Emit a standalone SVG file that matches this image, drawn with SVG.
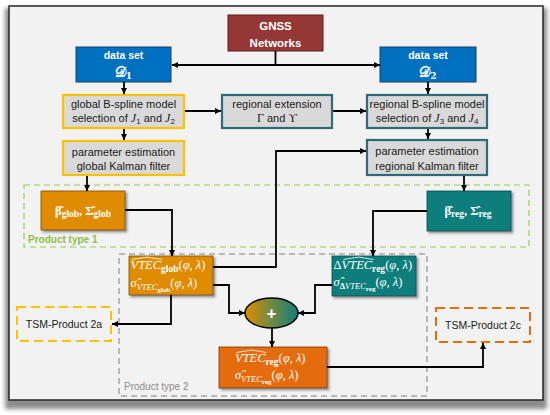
<svg xmlns="http://www.w3.org/2000/svg" width="550" height="415" viewBox="0 0 550 415">
<defs>
<style>
.lbl{font-family:"Liberation Sans",Arial,sans-serif;font-size:11px;fill:#1a1a1a;text-anchor:middle}
.wb{font-family:"Liberation Sans",Arial,sans-serif;font-weight:bold;fill:#fff;text-anchor:middle}
.m{font-family:"Liberation Serif","DejaVu Serif",serif;font-size:12.5px;fill:#fff}
.it{font-style:italic}
.sb{font-weight:bold;font-size:9.5px}
.ss{font-weight:bold;font-size:7px}
.si{font-style:italic;font-size:8.5px}
.con{fill:none;stroke:#000;stroke-width:1.8}
.hat{fill:none;stroke:#fff;stroke-width:0.8}
.gbox{fill:#d9d9d9;stroke-width:2.2}
.sh{filter:url(#shadow)}
</style>
<marker id="ah" viewBox="0 0 6 6" refX="6" refY="3" markerWidth="6" markerHeight="6" markerUnits="userSpaceOnUse" orient="auto">
<path d="M0,0 L6,3 L0,6 z" fill="#000"/>
</marker>
<filter id="blur" x="-5%" y="-5%" width="110%" height="110%"><feGaussianBlur stdDeviation="2"/></filter>
<filter id="shadow" x="-10%" y="-10%" width="130%" height="130%"><feDropShadow dx="2" dy="2" stdDeviation="1" flood-color="#555" flood-opacity="0.6"/></filter>
<linearGradient id="grad" x1="0" y1="0" x2="1" y2="0">
<stop offset="0" stop-color="#e08c00"/>
<stop offset="0.45" stop-color="#7a8a3a"/>
<stop offset="1" stop-color="#117e7c"/>
</linearGradient>
</defs>

<rect x="0" y="0" width="550" height="415" fill="#ffffff"/>
<rect x="5" y="8" width="542" height="401" fill="#8c8c8c" filter="url(#blur)"/>
<rect x="9" y="6" width="534" height="394" fill="#f2f2f2" stroke="#262626" stroke-width="1.5"/>

<g id="product-type-1">
<rect x="24" y="185" width="505" height="62" fill="none" stroke="#92d050" stroke-width="1.2" stroke-dasharray="6,4"/>
<text x="28" y="243" font-family="Liberation Sans,Arial,sans-serif" font-size="10" font-weight="bold" fill="#8cc04a">Product type 1</text>
</g>
<g id="product-type-2">
<rect x="119" y="254" width="308" height="142" fill="none" stroke="#a6a6a6" stroke-width="1.5" stroke-dasharray="6,4"/>
<text x="124" y="390" font-family="Liberation Sans,Arial,sans-serif" font-size="10" fill="#8c8c8c">Product type 2</text>
</g>

<g id="gnss">
<rect x="228" y="15" width="95" height="36" fill="#953735" stroke="#5a1f1e" stroke-width="1"/>
<text class="wb" x="275.5" y="30" font-size="11.5">GNSS</text>
<text class="wb" x="275.5" y="46.5" font-size="11.5">Networks</text>
</g>

<g id="d1">
<rect x="76" y="47" width="95" height="35" fill="#0070c0" stroke="#1f3f60" stroke-width="1"/>
<text class="wb" x="123.5" y="59" font-size="10.5">data set</text>
<text x="123.5" y="77" font-family="DejaVu Serif,serif" font-size="14" font-weight="bold" fill="#fff" text-anchor="middle">𝒟<tspan font-size="9" dy="2">1</tspan></text>
</g>
<g id="d2">
<rect x="380" y="47" width="96" height="35" fill="#0070c0" stroke="#1f3f60" stroke-width="1"/>
<text class="wb" x="428" y="59" font-size="10.5">data set</text>
<text x="428" y="77" font-family="DejaVu Serif,serif" font-size="14" font-weight="bold" fill="#fff" text-anchor="middle">𝒟<tspan font-size="9" dy="2">2</tspan></text>
</g>

<g id="global-bspline">
<rect class="gbox" x="63" y="95" width="121" height="33" stroke="#ffc000"/>
<text class="lbl" x="123.5" y="107.5">global B-spline model</text>
<text class="lbl" x="123.5" y="122">selection of <tspan font-family="Liberation Serif,serif" font-style="italic" font-size="12">J</tspan><tspan font-size="8" dy="2">1</tspan><tspan dy="-2"> and </tspan><tspan font-family="Liberation Serif,serif" font-style="italic" font-size="12">J</tspan><tspan font-size="8" dy="2">2</tspan></text>
</g>
<g id="regional-extension">
<rect class="gbox" x="222" y="95" width="110" height="33" stroke="#2e6b7a"/>
<text class="lbl" x="277" y="107.5">regional extension</text>
<text class="lbl" x="277" y="122"><tspan font-family="Liberation Serif,serif" font-size="12">Γ</tspan> and <tspan font-family="Liberation Serif,serif" font-size="12">ϒ</tspan></text>
</g>
<g id="regional-bspline">
<rect class="gbox" x="367" y="95" width="120" height="33" stroke="#2e6b7a"/>
<text class="lbl" x="427" y="107.5">regional B-spline model</text>
<text class="lbl" x="427" y="122">selection of <tspan font-family="Liberation Serif,serif" font-style="italic" font-size="12">J</tspan><tspan font-size="8" dy="2">3</tspan><tspan dy="-2"> and </tspan><tspan font-family="Liberation Serif,serif" font-style="italic" font-size="12">J</tspan><tspan font-size="8" dy="2">4</tspan></text>
</g>

<g id="param-global">
<rect class="gbox" x="63" y="141" width="121" height="34" stroke="#ffc000"/>
<text class="lbl" x="123.5" y="156">parameter estimation</text>
<text class="lbl" x="123.5" y="170">global Kalman filter</text>
</g>
<g id="param-regional">
<rect class="gbox" x="367" y="140" width="120" height="35" stroke="#2e6b7a"/>
<text class="lbl" x="427" y="155">parameter estimation</text>
<text class="lbl" x="427" y="169.5">regional Kalman filter</text>
</g>

<g id="beta-glob">
<rect class="sh" x="41" y="191" width="84" height="39" fill="#e08c00" stroke="#7a4d00" stroke-width="0.8"/>
<text class="m" x="83" y="215" text-anchor="middle" font-weight="bold" font-size="13.5">β̂<tspan class="sb" dy="2">glob</tspan><tspan dy="-2">, Σ̂</tspan><tspan class="sb" dy="2">glob</tspan></text>
</g>
<g id="beta-reg">
<rect class="sh" x="427" y="191" width="84" height="40" fill="#117e7c" stroke="#0a4a49" stroke-width="0.8"/>
<text class="m" x="468" y="215" text-anchor="middle" font-weight="bold" font-size="13.5">β̂<tspan class="sb" dy="2">reg</tspan><tspan dy="-2">, Σ̂</tspan><tspan class="sb" dy="2">reg</tspan></text>
</g>

<g id="vtec-glob">
<rect class="sh" x="129" y="256" width="84" height="39" fill="#e08c00" stroke="#7a4d00" stroke-width="0.8"/>
<path class="hat" d="M132,259.5 L147,257 L162,259.5"/>
<text class="m" x="130.5" y="269"><tspan class="it">VTEC</tspan><tspan class="sb" dy="3">glob</tspan><tspan dy="-3">(</tspan><tspan class="it">φ</tspan>, <tspan class="it">λ</tspan>)</text>
<text class="m" x="130.5" y="287"><tspan class="it">σ̂</tspan><tspan class="si" dy="3">VTEC</tspan><tspan class="ss" dy="2">glob</tspan><tspan dy="-5">(</tspan><tspan class="it">φ</tspan>, <tspan class="it">λ</tspan>)</text>
</g>

<g id="dvtec-reg">
<rect class="sh" x="332" y="256" width="84" height="40" fill="#117e7c" stroke="#0a4a49" stroke-width="0.8"/>
<path class="hat" d="M343.5,259.5 L358.5,257 L373.5,259.5"/>
<text class="m" x="333.5" y="269">Δ<tspan class="it">VTEC</tspan><tspan class="sb" dy="3">reg</tspan><tspan dy="-3">(</tspan><tspan class="it">φ</tspan>, <tspan class="it">λ</tspan>)</text>
<text class="m" x="333.5" y="286"><tspan class="it">σ̂</tspan><tspan font-size="8.5" font-weight="bold" dy="3">Δ</tspan><tspan class="si">VTEC</tspan><tspan class="ss" dy="2">reg</tspan><tspan dy="-5">(</tspan><tspan class="it">φ</tspan>, <tspan class="it">λ</tspan>)</text>
</g>

<g id="plus">
<ellipse cx="271.5" cy="313" rx="26.5" ry="15" fill="url(#grad)" stroke="#000" stroke-width="1.5"/>
<text x="271.5" y="318.5" font-family="Liberation Sans,Arial,sans-serif" font-size="17" font-weight="bold" fill="#fff" text-anchor="middle">+</text>
</g>

<g id="vtec-reg">
<rect class="sh" x="219" y="347" width="108" height="41" fill="#e46c0a" stroke="#7a3a05" stroke-width="0.8"/>
<path class="hat" d="M236.5,352.5 L251.5,350 L266.5,352.5"/>
<text class="m" x="235" y="362"><tspan class="it">VTEC</tspan><tspan class="sb" dy="3">reg</tspan><tspan dy="-3">(</tspan><tspan class="it">φ</tspan>, <tspan class="it">λ</tspan>)</text>
<text class="m" x="235" y="379"><tspan class="it">σ̂</tspan><tspan class="si" dy="3">VTEC</tspan><tspan class="ss" dy="2">reg</tspan><tspan dy="-5">(</tspan><tspan class="it">φ</tspan>, <tspan class="it">λ</tspan>)</text>
</g>

<g id="tsm-2a">
<rect x="17" y="307" width="94" height="34" fill="none" stroke="#ffc000" stroke-width="2" stroke-dasharray="9,5"/>
<text x="64" y="327.5" font-family="Liberation Sans,Arial,sans-serif" font-size="10.5" fill="#1a1a1a" text-anchor="middle">TSM-Product 2a</text>
</g>
<g id="tsm-2c">
<rect x="436" y="308" width="94" height="34" fill="none" stroke="#e46c0a" stroke-width="2" stroke-dasharray="9,5"/>
<text x="483" y="328.5" font-family="Liberation Sans,Arial,sans-serif" font-size="10.5" fill="#1a1a1a" text-anchor="middle">TSM-Product 2c</text>
</g>

<g id="connectors">
<path class="con" d="M275.5,51 V65 H172" marker-end="url(#ah)"/>
<path class="con" d="M275.5,65 H380" marker-end="url(#ah)"/>
<path class="con" d="M124,82 V94" marker-end="url(#ah)"/>
<path class="con" d="M428,82 V94" marker-end="url(#ah)"/>
<path class="con" d="M185,111 H221" marker-end="url(#ah)"/>
<path class="con" d="M333,111 H366" marker-end="url(#ah)"/>
<path class="con" d="M124,129 V140" marker-end="url(#ah)"/>
<path class="con" d="M428,129 V139" marker-end="url(#ah)"/>
<path class="con" d="M87,176 V191" marker-end="url(#ah)"/>
<path class="con" d="M464,176 V191" marker-end="url(#ah)"/>
<path class="con" d="M125,210 H172 V256" marker-end="url(#ah)"/>
<path class="con" d="M427,211 H373 V256" marker-end="url(#ah)"/>
<path class="con" d="M213,267 H276 V151 H366" marker-end="url(#ah)"/>
<path class="con" d="M213,285 H229 V313 H245" marker-end="url(#ah)"/>
<path class="con" d="M332,285 H315 V313 H298" marker-end="url(#ah)"/>
<path class="con" d="M272,328 V347" marker-end="url(#ah)"/>
<path class="con" d="M171,295 V324 H112" marker-end="url(#ah)"/>
<path class="con" d="M327,367 H483 V343" marker-end="url(#ah)"/>
</g>
</svg>
